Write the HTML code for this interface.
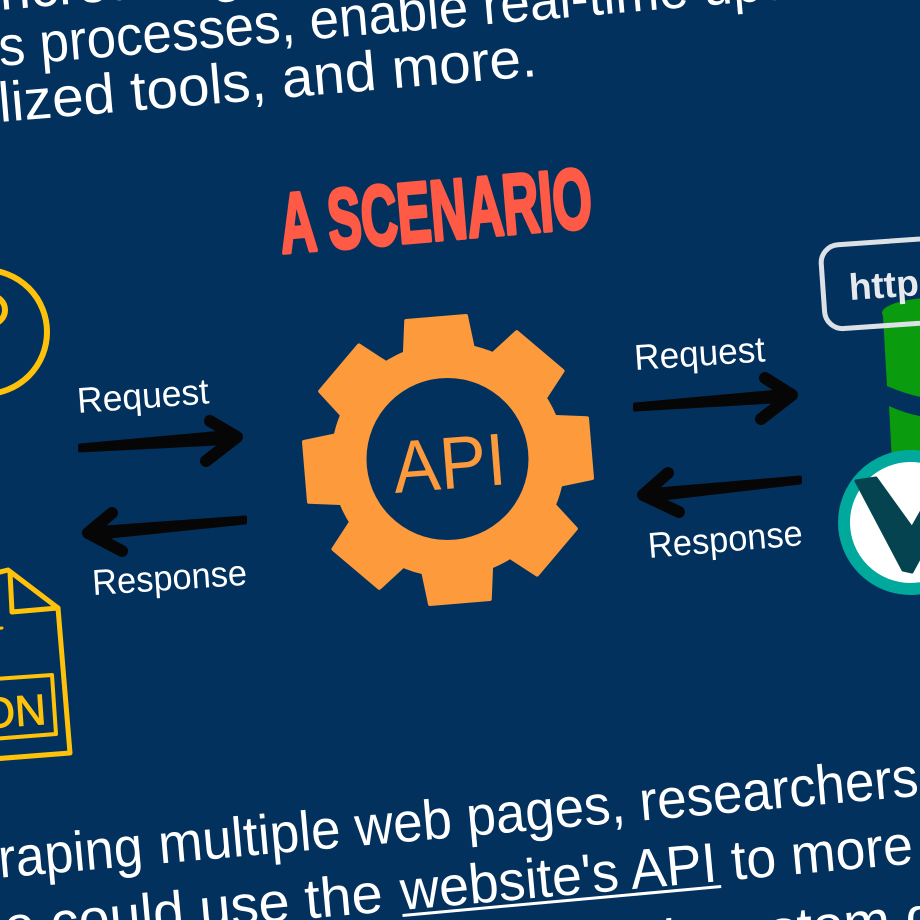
<!DOCTYPE html>
<html>
<head>
<meta charset="utf-8">
<style>
  html, body { margin: 0; padding: 0; background: #03315E; }
  body { width: 920px; height: 920px; overflow: hidden; }
  svg { display: block; }
  .t { font-family: "Liberation Sans", Arial, sans-serif; fill: #ffffff; }
</style>
</head>
<body>
<svg width="920" height="920" viewBox="0 0 920 920" xmlns="http://www.w3.org/2000/svg">
  <rect x="0" y="0" width="920" height="920" fill="#03315E"/>

  <!-- Top paragraph -->
  <g class="t" font-size="56">
    <text transform="translate(0,10) rotate(-4.9)" x="-12">increasingly key to many</text>
    <g transform="translate(0,66) rotate(-4.9)">
      <text x="0" text-anchor="end">busines</text>
      <text x="0" textLength="910" lengthAdjust="spacingAndGlyphs">s processes, enable real-time updates,</text>
    </g>
    <g transform="translate(0,122) rotate(-4.9)">
      <text x="0" text-anchor="end">specia</text>
      <text x="0" textLength="540" lengthAdjust="spacingAndGlyphs">lized tools, and more.</text>
    </g>
  </g>

  <!-- Title -->
  <text transform="translate(282,253) rotate(-4.8)" font-family="'Liberation Sans', Arial, sans-serif"
        font-weight="bold" font-size="85" fill="#FF5A46" stroke="#FF5A46" stroke-width="4"
        stroke-linejoin="round" textLength="313" lengthAdjust="spacingAndGlyphs">A SCENARIO</text>

  <!-- Left icons (yellow) -->
  <g fill="none" stroke="#FFC20A" stroke-linejoin="round" stroke-linecap="round">
    <circle cx="-15" cy="332" r="62" stroke-width="6"/>
    <circle cx="-9" cy="310" r="14" stroke-width="6"/>
    <path d="M-20,577 L8,570 L58,608 L70,753 L-20,760" stroke-width="5"/>
    <path d="M10,572 L12,612 L58,608" stroke-width="5"/>
    <path d="M-20,680 L52,675 L56,734 L-20,740" stroke-width="4"/>
    <line x1="-5" y1="629" x2="2" y2="628" stroke-width="3"/>
  </g>
  <text transform="translate(47,724) rotate(-4)" text-anchor="end"
        font-family="'Liberation Sans', Arial, sans-serif" font-size="43" fill="#FFC20A"
        stroke="#FFC20A" stroke-width="1">JSON</text>

  <!-- Gear -->
  <g transform="translate(448,460) rotate(-4.8)" fill="#FD9A3B" stroke="#FD9A3B" stroke-width="4" stroke-linejoin="round">
    <circle r="115"/>
    <polygon points="-35,-102 -30,-142 30,-142 35,-102"/>
    <polygon points="-35,-102 -30,-142 30,-142 35,-102" transform="rotate(45)"/>
    <polygon points="-35,-102 -30,-142 30,-142 35,-102" transform="rotate(90)"/>
    <polygon points="-35,-102 -30,-142 30,-142 35,-102" transform="rotate(135)"/>
    <polygon points="-35,-102 -30,-142 30,-142 35,-102" transform="rotate(180)"/>
    <polygon points="-35,-102 -30,-142 30,-142 35,-102" transform="rotate(225)"/>
    <polygon points="-35,-102 -30,-142 30,-142 35,-102" transform="rotate(270)"/>
    <polygon points="-35,-102 -30,-142 30,-142 35,-102" transform="rotate(315)"/>
  </g>
  <circle cx="447.5" cy="459" r="81" fill="#03315E"/>
  <text transform="translate(395,493) rotate(-4.5)" font-family="'Liberation Sans', Arial, sans-serif"
        font-size="74" fill="#FD9A3B" textLength="113" lengthAdjust="spacingAndGlyphs">API</text>

  <!-- Arrows -->
  <g fill="#060606" stroke="#060606" stroke-linejoin="round" stroke-linecap="round" stroke-width="4">
    <polygon points="80,445.5 234,431.5 236,442.5 80,450.5"/>
    <polygon points="245,517.5 91,528.5 91,538.5 245,522.5"/>
    <polygon points="635,404.5 789,390.5 791,400.5 635,409.5"/>
    <polygon points="800,477.5 646,490.5 646,500.5 800,482.5"/>
  </g>
  <g fill="none" stroke="#060606" stroke-width="12" stroke-linejoin="round" stroke-linecap="round">
    <path d="M210,421 L237,437 L206,461"/>
    <path d="M112,513 L88,533 L122,551"/>
    <path d="M765,378 L792,395 L761,419"/>
    <path d="M668,473 L643,495 L679,512"/>
  </g>

  <!-- Arrow labels -->
  <g class="t" font-size="36">
    <text transform="translate(78,413) rotate(-4.2)" textLength="132" lengthAdjust="spacingAndGlyphs">Request</text>
    <text transform="translate(93,595) rotate(-3.8)" textLength="155" lengthAdjust="spacingAndGlyphs">Response</text>
    <text transform="translate(635,370) rotate(-3.8)" textLength="131" lengthAdjust="spacingAndGlyphs">Request</text>
    <text transform="translate(649,558) rotate(-4.8)" textLength="155" lengthAdjust="spacingAndGlyphs">Response</text>
  </g>

  <!-- Right icons -->
  <g fill="#0B9B0E">
    <ellipse cx="945" cy="313" rx="63" ry="16"/>
    <path d="M883,316 L925,316 L925,398 Q905,394 887,386 Z"/>
    <path d="M889,406 Q906,414 925,417 L925,480 L893,480 Z"/>
  </g>
  <g transform="translate(820,246) rotate(-4)">
    <rect x="0" y="0" width="200" height="84" rx="18" fill="none" stroke="#DCE1E6" stroke-width="5"/>
    <text x="26" y="56" font-family="'Liberation Sans', Arial, sans-serif" font-weight="bold"
          font-size="37" fill="#E6EAEE">http</text>
  </g>
  <circle cx="910.5" cy="522.5" r="66.5" fill="#ffffff" stroke="#00A99C" stroke-width="12"/>
  <path d="M856,481 L876,478 L912,528 L925,505 L925,548 L912,572 L903,570 Z"
        fill="#04434F" stroke="#04434F" stroke-width="3" stroke-linejoin="round"/>

  <!-- Bottom paragraph -->
  <g class="t" font-size="56">
    <g transform="translate(160,863.5) rotate(-5.1)">
      <text x="-16" text-anchor="end" textLength="440" lengthAdjust="spacingAndGlyphs">Instead of scraping</text>
      <text x="0" textLength="904" lengthAdjust="spacingAndGlyphs">multiple web pages, researchers could</text>
    </g>
    <g transform="translate(402,910) rotate(-5.2)">
      <text x="-18" text-anchor="end">one could use the</text>
      <text x="0" textLength="752" lengthAdjust="spacingAndGlyphs">website's API to more efficiently</text>
      <rect x="0" y="4" width="320" height="3" fill="#ffffff"/>
    </g>
    <g transform="translate(712,955) rotate(-5.2)">
      <text x="-15" text-anchor="end">easily access data with</text>
      <text x="0">custom queries</text>
    </g>
  </g>
</svg>
</body>
</html>
